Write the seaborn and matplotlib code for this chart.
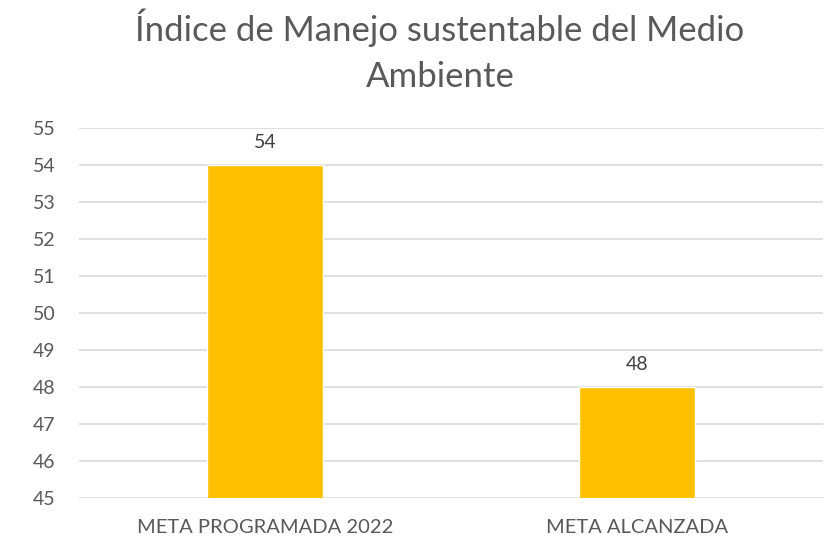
import matplotlib
matplotlib.use("Agg")
import matplotlib.pyplot as plt
import seaborn as sns
import pandas as pd

categories = ["META PROGRAMADA 2022", "META ALCANZADA"]
values = [54, 48]
yticks = [45, 46, 47, 48, 49, 50, 51, 52, 53, 54, 55]
title_lines = ["Índice de Manejo sustentable del Medio", "Ambiente"]

sns.set_theme(style="white")
plt.rcParams['font.family'] = ['Lato', 'DejaVu Sans']

df = pd.DataFrame({"cat": categories, "val": values})

fig = plt.figure(figsize=(8.28, 5.38), dpi=100)
ax = fig.add_axes([79/828, 1-498/538, 744/828, 370/538])
sns.barplot(data=df, x="cat", y="val", color="#FFC000", width=0.31,
            saturation=1, ax=ax, zorder=3)
ax.set_ylim(45, 55)
ax.set_xlim(-0.5, 1.5)
ax.set_yticks(yticks)
ax.yaxis.grid(True, color="#d9d9d9", linewidth=1.2, zorder=0)
ax.set_axisbelow(True)
for s in ax.spines.values():
    s.set_visible(False)
ax.set_xlabel("")
ax.set_ylabel("")
ax.tick_params(axis="both", length=0, colors="#595959")
ax.tick_params(axis="y", pad=17, labelsize=14)
ax.tick_params(axis="x", pad=15, labelsize=14.5)
for c in ax.containers:
    ax.bar_label(c, labels=[str(v) for v in values], padding=10,
                 fontsize=14, color="#404040")
fig.text(440/828, 1-41/538, title_lines[0], ha="center", va="baseline",
         fontsize=25, color="#595959")
fig.text(440/828, 1-87/538, title_lines[1], ha="center", va="baseline",
         fontsize=25, color="#595959")
fig.savefig("out.png", dpi=100)
